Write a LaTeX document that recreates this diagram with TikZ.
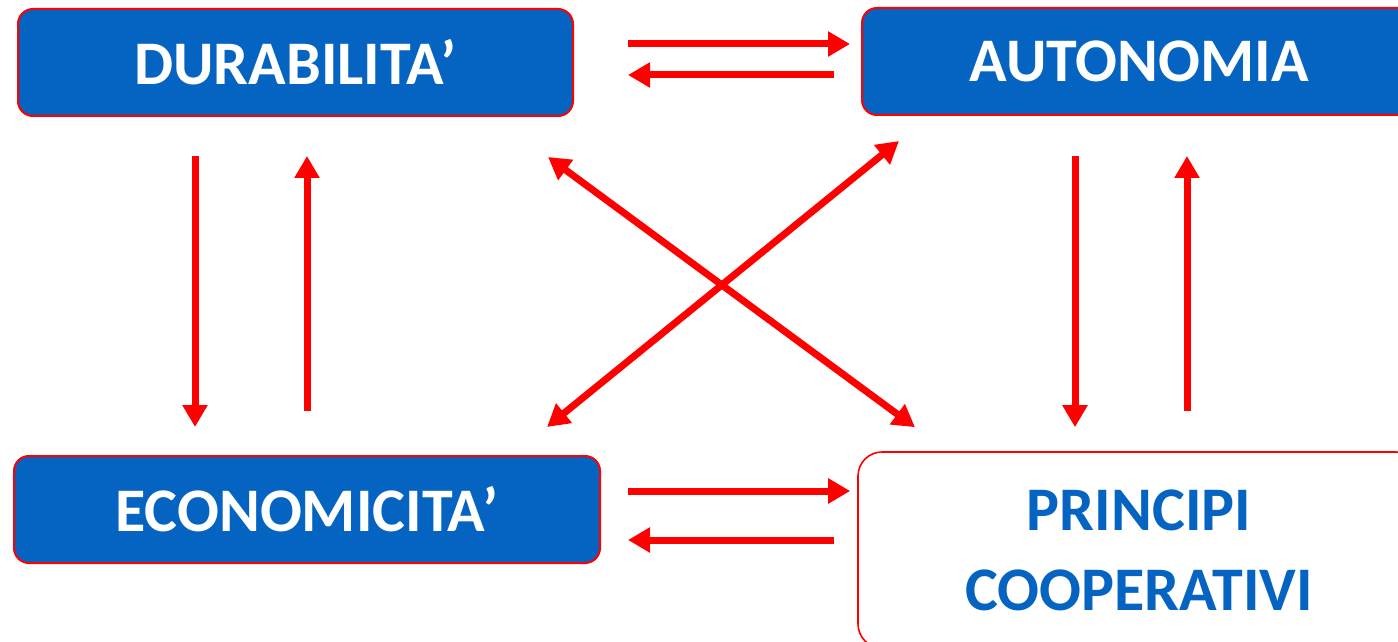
\documentclass[tikz,border=0pt]{standalone}
\usepackage{fontspec}
\setmainfont{Carlito}
\usetikzlibrary{arrows.meta,calc}

\definecolor{boxblue}{RGB}{5,99,193}

\tikzset{
	box/.style={draw=red, line width=1pt, fill=boxblue, text=white, rounded corners=7.5pt,
		inner sep=0pt, minimum height=53.5pt, font=\bfseries\fontsize{31}{37}\selectfont},
	textbox/.style={draw=red, line width=0.8pt, fill=white, text=boxblue, rounded corners=12pt,
		inner sep=0pt, align=center, font=\bfseries\fontsize{31}{40}\selectfont},
	arr/.style={red, line width=3.5pt, -{Triangle[length=11pt,width=12pt]}},
	dblarr/.style={red, line width=3.5pt, {Triangle[length=11pt,width=12pt]}-{Triangle[length=11pt,width=12pt]}}
}

\begin{document}
\begin{tikzpicture}[x=0.5pt,y=-0.5pt]
\useasboundingbox (0,0) rectangle (1398,642);

% the four boxes
\node[box, minimum width=277.5pt] (dur) at (295.5,62.5) {DURABILITA’};
\node[box, minimum width=277pt] (aut) at (1139,61.5) {AUTONOMIA};
\node[box, minimum width=293pt] (eco) at (307,509.5) {ECONOMICITA’};
\node[textbox, minimum width=281pt, minimum height=98pt] (pri) at (1139,550) {PRINCIPI\\COOPERATIVI};

% horizontal arrows
\draw[arr] ($(dur.east)+(54,-18.5)$) -- ($(aut.west)+(-11,-17.5)$);
\draw[arr] ($(aut.west)+(-27,13.5)$) -- ($(dur.east)+(54,12.5)$);
\draw[arr] ($(eco.east)+(27,-18.5)$) -- ($(pri.west)+(-7,-59)$);
\draw[arr] ($(pri.west)+(-23,-10)$) -- ($(eco.east)+(27,30.5)$);

% vertical arrows
\draw[arr] ($(dur.south)+(-100.5,39)$) -- ($(eco.north)+(-112,-28)$);
\draw[arr] ($(eco.north)+(0,-44)$) -- ($(dur.south)+(11.5,39)$);
\draw[arr] ($(aut.south)+(-64,40)$) -- ($(pri.north)+(-64,-24)$);
\draw[arr] ($(pri.north)+(48,-40)$) -- ($(aut.south)+(48,40)$);

% diagonals
\draw[dblarr] ($(dur.south)+(252.5,40)$) -- ($(pri.north)+(-224,-24)$);
\draw[dblarr] ($(aut.south)+(-240,25)$) -- ($(eco.north)+(240,-28)$);

\end{tikzpicture}
\end{document}
